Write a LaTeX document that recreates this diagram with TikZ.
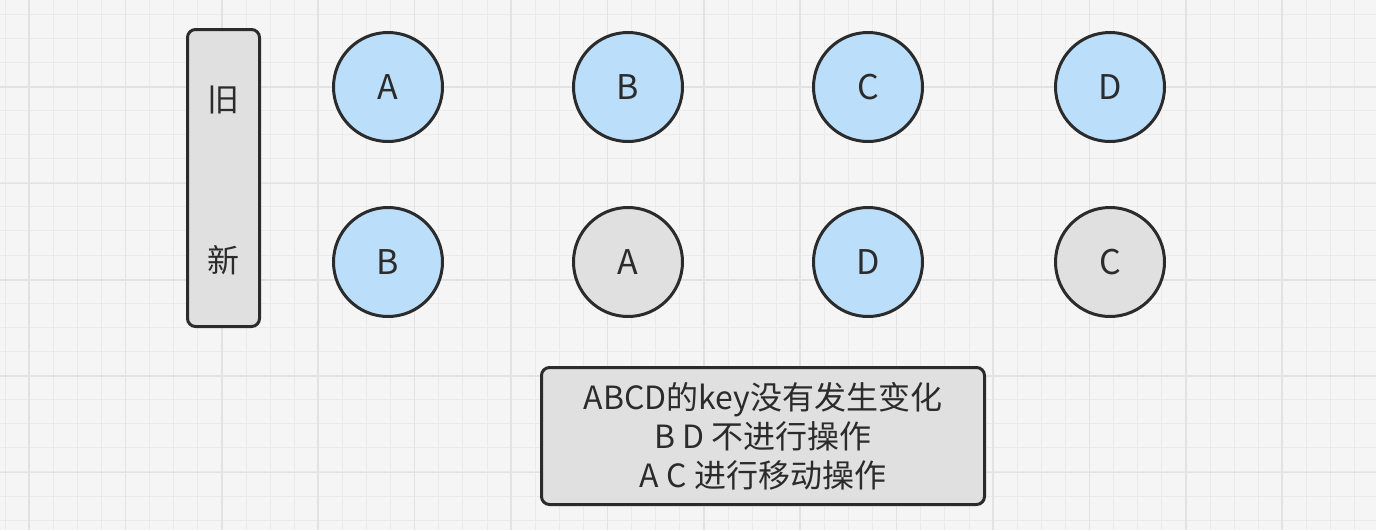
\documentclass[tikz,border=0pt]{standalone}
\usepackage{fontspec}
\setmainfont{Noto Sans CJK SC}
\usepackage{tikz}
\definecolor{bgpaper}{HTML}{F5F5F5}
\definecolor{gridminor}{HTML}{EAEAEA}
\definecolor{gridmajor}{HTML}{E2E2E2}
\definecolor{keyblue}{HTML}{BBDEFB}
\definecolor{keygrey}{HTML}{E0E0E0}
\definecolor{inkline}{HTML}{2B2B2B}
\tikzset{
	keynode/.style={shape=circle, draw=inkline, line width=1.5pt, minimum size=54.5pt, inner sep=0pt, font=\fontsize{17}{20}\selectfont, text=inkline},
	same/.style={keynode, fill=keyblue},
	moved/.style={keynode, fill=keygrey},
	panel/.style={shape=rectangle, draw=inkline, fill=keygrey, line width=1.5pt, rounded corners=4pt, inner sep=0pt},
	caption/.style={font=\fontsize{16}{19.5}\selectfont, text=inkline, align=center}
}

\begin{document}
\begin{tikzpicture}[x=0.5pt, y=-0.5pt]
	\useasboundingbox (0, 0) rectangle (1376, 530);
	% paper with grid
	\fill[bgpaper] (0, 0) rectangle (1376, 530);
	\begin{scope}
		\clip (0, 0) rectangle (1376, 530);
		\foreach \gx in {0,...,56}
			\draw[gridminor, line width=0.5pt] ({5+24.1*\gx}, 0) -- ({5+24.1*\gx}, 530);
		\foreach \gy in {0,...,21}
			\draw[gridminor, line width=0.5pt] (0, {14+24.1*\gy}) -- (1376, {14+24.1*\gy});
		\foreach \gx in {0,...,14}
			\draw[gridmajor, line width=0.75pt] ({29+96.4*\gx}, 0) -- ({29+96.4*\gx}, 530);
		\foreach \gy in {1,...,5}
			\draw[gridmajor, line width=0.75pt] (0, {-9.4+96.4*\gy}) -- (1376, {-9.4+96.4*\gy});
	\end{scope}

	% old / new column
	\node[panel, minimum width=36pt, minimum height=148.5pt] (side) at (223.5, 178) {};
	\node[caption] (old) at (223.5, 100) {旧};
	\node[caption] (new) at (223.5, 260) {新};

	% old order
	\node[same] (oldA) at (388, 87) {A};
	\node[same] (oldB) at (628, 87) {B};
	\node[same] (oldC) at (868, 87) {C};
	\node[same] (oldD) at (1110, 87) {D};

	% new order
	\node[same] (newB) at (388, 262) {B};
	\node[moved] (newA) at (628, 262) {A};
	\node[same] (newD) at (868, 262) {D};
	\node[moved] (newC) at (1110, 262) {C};

	% note
	\node[panel, caption, minimum width=221.5pt, minimum height=68.5pt] (note) at (763, 436) {ABCD的key没有发生变化\\B D 不进行操作\\A C 进行移动操作};
\end{tikzpicture}
\end{document}
